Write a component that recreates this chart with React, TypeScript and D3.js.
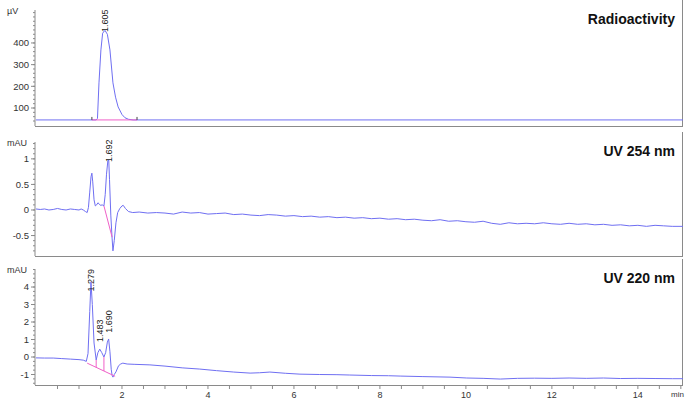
import React from "react";
import * as d3 from "d3";

// ---------- DATA ----------
const timeTicks = [2, 4, 6, 8, 10, 12, 14];

const radioTicks = [100, 200, 300, 400];
const uv254Ticks = [-0.5, 0, 0.5, 1];
const uv220Ticks = [-1, 0, 1, 2, 3, 4];

const radioSeries: [number, number][] = [
  [0, 45], [1.0, 45], [1.4, 45], [1.43, 52], [1.465, 216], [1.51, 368], [1.55, 445],
  [1.605, 458], [1.66, 440], [1.72, 368], [1.79, 216], [1.85, 150], [1.91, 105],
  [2.0, 70], [2.07, 55], [2.15, 48], [2.26, 45], [15.05, 45],
];

const uv254Series: [number, number][] = [
  [0, 0.02], [0.1, 0.01], [0.2, 0.02], [0.3, 0.0], [0.4, 0.01], [0.5, 0.03], [0.6, 0.01],
  [0.7, 0.0], [0.8, 0.02], [0.9, 0.01], [1.0, 0.0], [1.05, 0.02], [1.1, 0.0], [1.15, -0.03],
  [1.19, -0.05], [1.22, 0.05], [1.25, 0.35], [1.28, 0.65], [1.3, 0.72], [1.32, 0.55],
  [1.35, 0.2], [1.38, 0.08], [1.41, 0.1], [1.44, 0.14], [1.47, 0.12], [1.5, 0.09],
  [1.54, 0.1], [1.58, 0.08], [1.61, 0.3], [1.64, 0.7], [1.67, 0.95], [1.692, 0.98],
  [1.71, 0.6], [1.74, -0.1], [1.77, -0.55], [1.79, -0.8], [1.82, -0.6], [1.86, -0.25],
  [1.9, -0.05], [1.95, 0.03], [2.0, 0.08], [2.03, 0.09], [2.08, 0.03], [2.15, -0.03],
  [2.25, -0.05], [2.4, -0.04], [2.6, -0.06], [2.8, -0.05], [3.0, -0.06], [3.2, -0.08],
  [3.4, -0.04], [3.6, -0.06], [3.8, -0.05], [4.0, -0.08], [4.2, -0.07], [4.4, -0.06],
  [4.6, -0.09], [4.8, -0.08], [5.0, -0.1], [5.2, -0.11], [5.4, -0.09], [5.6, -0.1],
  [5.8, -0.12], [6.0, -0.11], [6.2, -0.13], [6.4, -0.12], [6.6, -0.14], [6.8, -0.13],
  [7.0, -0.15], [7.2, -0.14], [7.4, -0.16], [7.6, -0.15], [7.8, -0.17], [8.0, -0.16],
  [8.2, -0.18], [8.4, -0.17], [8.6, -0.19], [8.8, -0.18], [9.0, -0.2], [9.2, -0.21],
  [9.4, -0.19], [9.6, -0.22], [9.8, -0.21], [10.0, -0.23], [10.2, -0.24], [10.4, -0.22],
  [10.6, -0.26], [10.8, -0.28], [11.0, -0.25], [11.2, -0.27], [11.4, -0.26], [11.6, -0.27],
  [11.8, -0.25], [12.0, -0.27], [12.2, -0.28], [12.4, -0.26], [12.6, -0.28], [12.8, -0.27],
  [13.0, -0.29], [13.2, -0.28], [13.4, -0.3], [13.6, -0.29], [13.8, -0.31], [14.0, -0.3],
  [14.2, -0.32], [14.4, -0.3], [14.6, -0.31], [14.8, -0.32], [15.05, -0.32],
];

const uv220Series: [number, number][] = [
  [0, -0.05], [0.2, -0.06], [0.4, -0.06], [0.6, -0.09], [0.8, -0.12], [1.0, -0.15],
  [1.1, -0.18], [1.17, -0.25], [1.21, 0.2], [1.25, 2.6], [1.279, 4.3], [1.31, 3.0],
  [1.35, 0.8], [1.4, -0.17], [1.44, 0.25], [1.483, 0.45], [1.53, 0.25], [1.58, 0.0],
  [1.62, 0.25], [1.66, 0.85], [1.69, 1.03], [1.72, 0.3], [1.75, -0.7], [1.77, -1.05],
  [1.79, -1.15], [1.82, -1.0], [1.86, -0.85], [1.92, -0.5], [1.97, -0.4], [2.02, -0.35],
  [2.12, -0.4], [2.3, -0.42], [2.65, -0.45], [3.0, -0.52], [3.4, -0.62], [3.81, -0.69],
  [4.2, -0.78], [4.6, -0.86], [4.98, -0.92], [5.2, -0.9], [5.44, -0.86], [5.8, -0.93],
  [6.14, -0.98], [6.6, -1.0], [7.0, -1.01], [7.3, -1.03], [7.8, -1.06], [8.2, -1.07],
  [8.47, -1.09], [9.0, -1.12], [9.63, -1.15], [10.02, -1.2], [10.4, -1.22], [10.8, -1.26],
  [11.2, -1.22], [11.6, -1.21], [12.0, -1.22], [12.4, -1.2], [12.8, -1.22], [13.2, -1.2],
  [13.6, -1.23], [14.0, -1.22], [14.4, -1.23], [14.8, -1.24], [15.05, -1.24],
];

// integration baselines (pink)
const radioBaseline: [number, number][] = [[1.3, 45], [2.35, 45]];
const uv254Baseline: [number, number][] = [[1.58, 0.08], [1.77, -0.53]];
const uv220Baseline: [number, number][] = [[1.19, -0.35], [1.84, -1.1]];
const uv220Drops = [1.4, 1.58];

// peak labels: [time, labelBottomValue, text]
const radioPeaks: [number, number, string][] = [[1.605, 451, "1.605"]];
const uv254Peaks: [number, number, string][] = [[1.692, 0.94, "1.692"]];
const uv220Peaks: [number, number, string][] = [
  [1.279, 3.74, "1.279"],
  [1.483, 0.86, "1.483"],
  [1.69, 1.38, "1.690"],
];

// ---------- LAYOUT ----------
const W = 685;
const H = 400;
const X0 = 36;
const X1 = 683;
const FONT = "'Liberation Sans', Arial, Helvetica, sans-serif";
const TRACE = "#6f6ff2";
const PINK = "#f060c8";
const AXIS = "#8a8a8a";

const x = d3.scaleLinear().domain([0, 15.05]).range([X0, X1]);

type PanelProps = {
  top: number;
  bottom: number;
  domain: [number, number];
  ticks: number[];
  minorStep: number;
  unit: string;
  title: string;
  series: [number, number][];
  baseline: [number, number][];
  peaks: [number, number, string][];
  drops?: number[];
  fmt: (v: number) => string;
  xAxis?: boolean;
  endMarks?: boolean;
};

function interp(series: [number, number][], t: number) {
  for (let i = 1; i < series.length; i++) {
    if (series[i][0] >= t) {
      const [t0, v0] = series[i - 1];
      const [t1, v1] = series[i];
      return v0 + ((v1 - v0) * (t - t0)) / (t1 - t0);
    }
  }
  return series[series.length - 1][1];
}

function Panel(p: PanelProps) {
  const y = d3.scaleLinear().domain(p.domain).range([p.bottom, p.top]);
  const line = d3
    .line<[number, number]>()
    .x((d) => x(d[0]))
    .y((d) => y(d[1]));
  const minor = d3
    .range(Math.ceil(p.domain[0] / p.minorStep) * p.minorStep, p.domain[1], p.minorStep)
    .filter((v) => y(v) <= p.bottom - 1 && y(v) >= p.top);
  const xMinor = d3.range(0.5, 15.01, 0.5);
  return (
    <g>
      {/* left axis */}
      <line x1={X0 - 1} x2={X0 - 1} y1={p.top} y2={p.bottom} stroke={AXIS} strokeWidth={1} />
      {minor.map((v, i) => (
        <line key={"m" + i} x1={X0 - 3} x2={X0 - 1} y1={y(v)} y2={y(v)} stroke={AXIS} strokeWidth={1} />
      ))}
      {p.ticks.map((v) => (
        <g key={"t" + v}>
          <line x1={X0 - 5} x2={X0 - 1} y1={y(v)} y2={y(v)} stroke={AXIS} strokeWidth={1} />
          <text x={X0 - 7} y={y(v)} dy="0.35em" textAnchor="end" fontSize={9.5} fontFamily={FONT} fill="#333">
            {p.fmt(v)}
          </text>
        </g>
      ))}
      <text x={7} y={p.top + 4} fontSize={9} fontFamily={FONT} fill="#333">
        {p.unit}
      </text>
      {/* bottom line and right border */}
      <line x1={X0 - 1} x2={X1} y1={p.bottom + 0.5} y2={p.bottom + 0.5} stroke={AXIS} strokeWidth={1} />
      <line x1={X1 - 0.5} x2={X1 - 0.5} y1={p.top - 10} y2={p.bottom} stroke={AXIS} strokeWidth={1} />
      {p.xAxis && (
        <g>
          {xMinor.map((t, i) => (
            <line key={"xm" + i} x1={x(t)} x2={x(t)} y1={p.bottom} y2={p.bottom + 4} stroke={AXIS} strokeWidth={1} />
          ))}
          {timeTicks.map((t) => (
            <text key={"xt" + t} x={x(t)} y={p.bottom + 9.5} dy="0.35em" textAnchor="middle" fontSize={9} fontFamily={FONT} fill="#333">
              {t}
            </text>
          ))}
          <text x={X1 - 12} y={p.bottom + 9.5} dy="0.35em" fontSize={8} fontFamily={FONT} fill="#333">
            min
          </text>
        </g>
      )}
      {/* title */}
      <text x={675} y={p.top + 14} textAnchor="end" fontSize={14} fontWeight="bold" fontFamily={FONT} fill="#111">
        {p.title}
      </text>
      {/* trace */}
      <path d={line(p.series) || ""} fill="none" stroke={TRACE} strokeWidth={1} strokeLinejoin="round" />
      {/* integration baseline */}
      <path d={line(p.baseline) || ""} fill="none" stroke={PINK} strokeWidth={1} />
      {(p.drops || []).map((t, i) => {
        const b = interp(p.baseline, t);
        const s = interp(p.series, t);
        return <line key={"dr" + i} x1={x(t)} x2={x(t)} y1={y(b)} y2={y(s)} stroke={PINK} strokeWidth={1} />;
      })}
      {p.endMarks &&
        p.baseline.map((d, i) => (
          <line key={"em" + i} x1={x(d[0])} x2={x(d[0])} y1={y(d[1]) - 3} y2={y(d[1])} stroke="#444" strokeWidth={1} />
        ))}
      {/* peak labels */}
      {p.peaks.map(([t, lv, txt]) => (
        <text
          key={txt}
          transform={`translate(${x(t)},${y(lv)}) rotate(-90)`}
          dy="0.35em"
          fontSize={9}
          fontFamily={FONT}
          fill="#222"
        >
          {txt}
        </text>
      ))}
    </g>
  );
}

export default function App() {
  return (
    <svg width={W} height={H} style={{ position: "absolute", left: 0, top: 0, background: "#fff" }}>
      <rect x={0} y={0} width={W} height={H} fill="#fff" />
      <Panel
        top={10}
        bottom={126}
        domain={[17, 552]}
        ticks={radioTicks}
        minorStep={20}
        unit="µV"
        title="Radioactivity"
        series={radioSeries}
        baseline={radioBaseline}
        peaks={radioPeaks}
        fmt={(v) => String(v)}
        endMarks
      />
      <Panel
        top={142}
        bottom={256}
        domain={[-0.9, 1.33]}
        ticks={uv254Ticks}
        minorStep={0.1}
        unit="mAU"
        title="UV 254 nm"
        series={uv254Series}
        baseline={uv254Baseline}
        peaks={uv254Peaks}
        fmt={(v) => String(v)}
      />
      <Panel
        top={269}
        bottom={385}
        domain={[-1.6, 5.03]}
        ticks={uv220Ticks}
        minorStep={0.25}
        unit="mAU"
        title="UV 220 nm"
        series={uv220Series}
        baseline={uv220Baseline}
        peaks={uv220Peaks}
        drops={uv220Drops}
        fmt={(v) => String(v)}
        xAxis
      />
    </svg>
  );
}
